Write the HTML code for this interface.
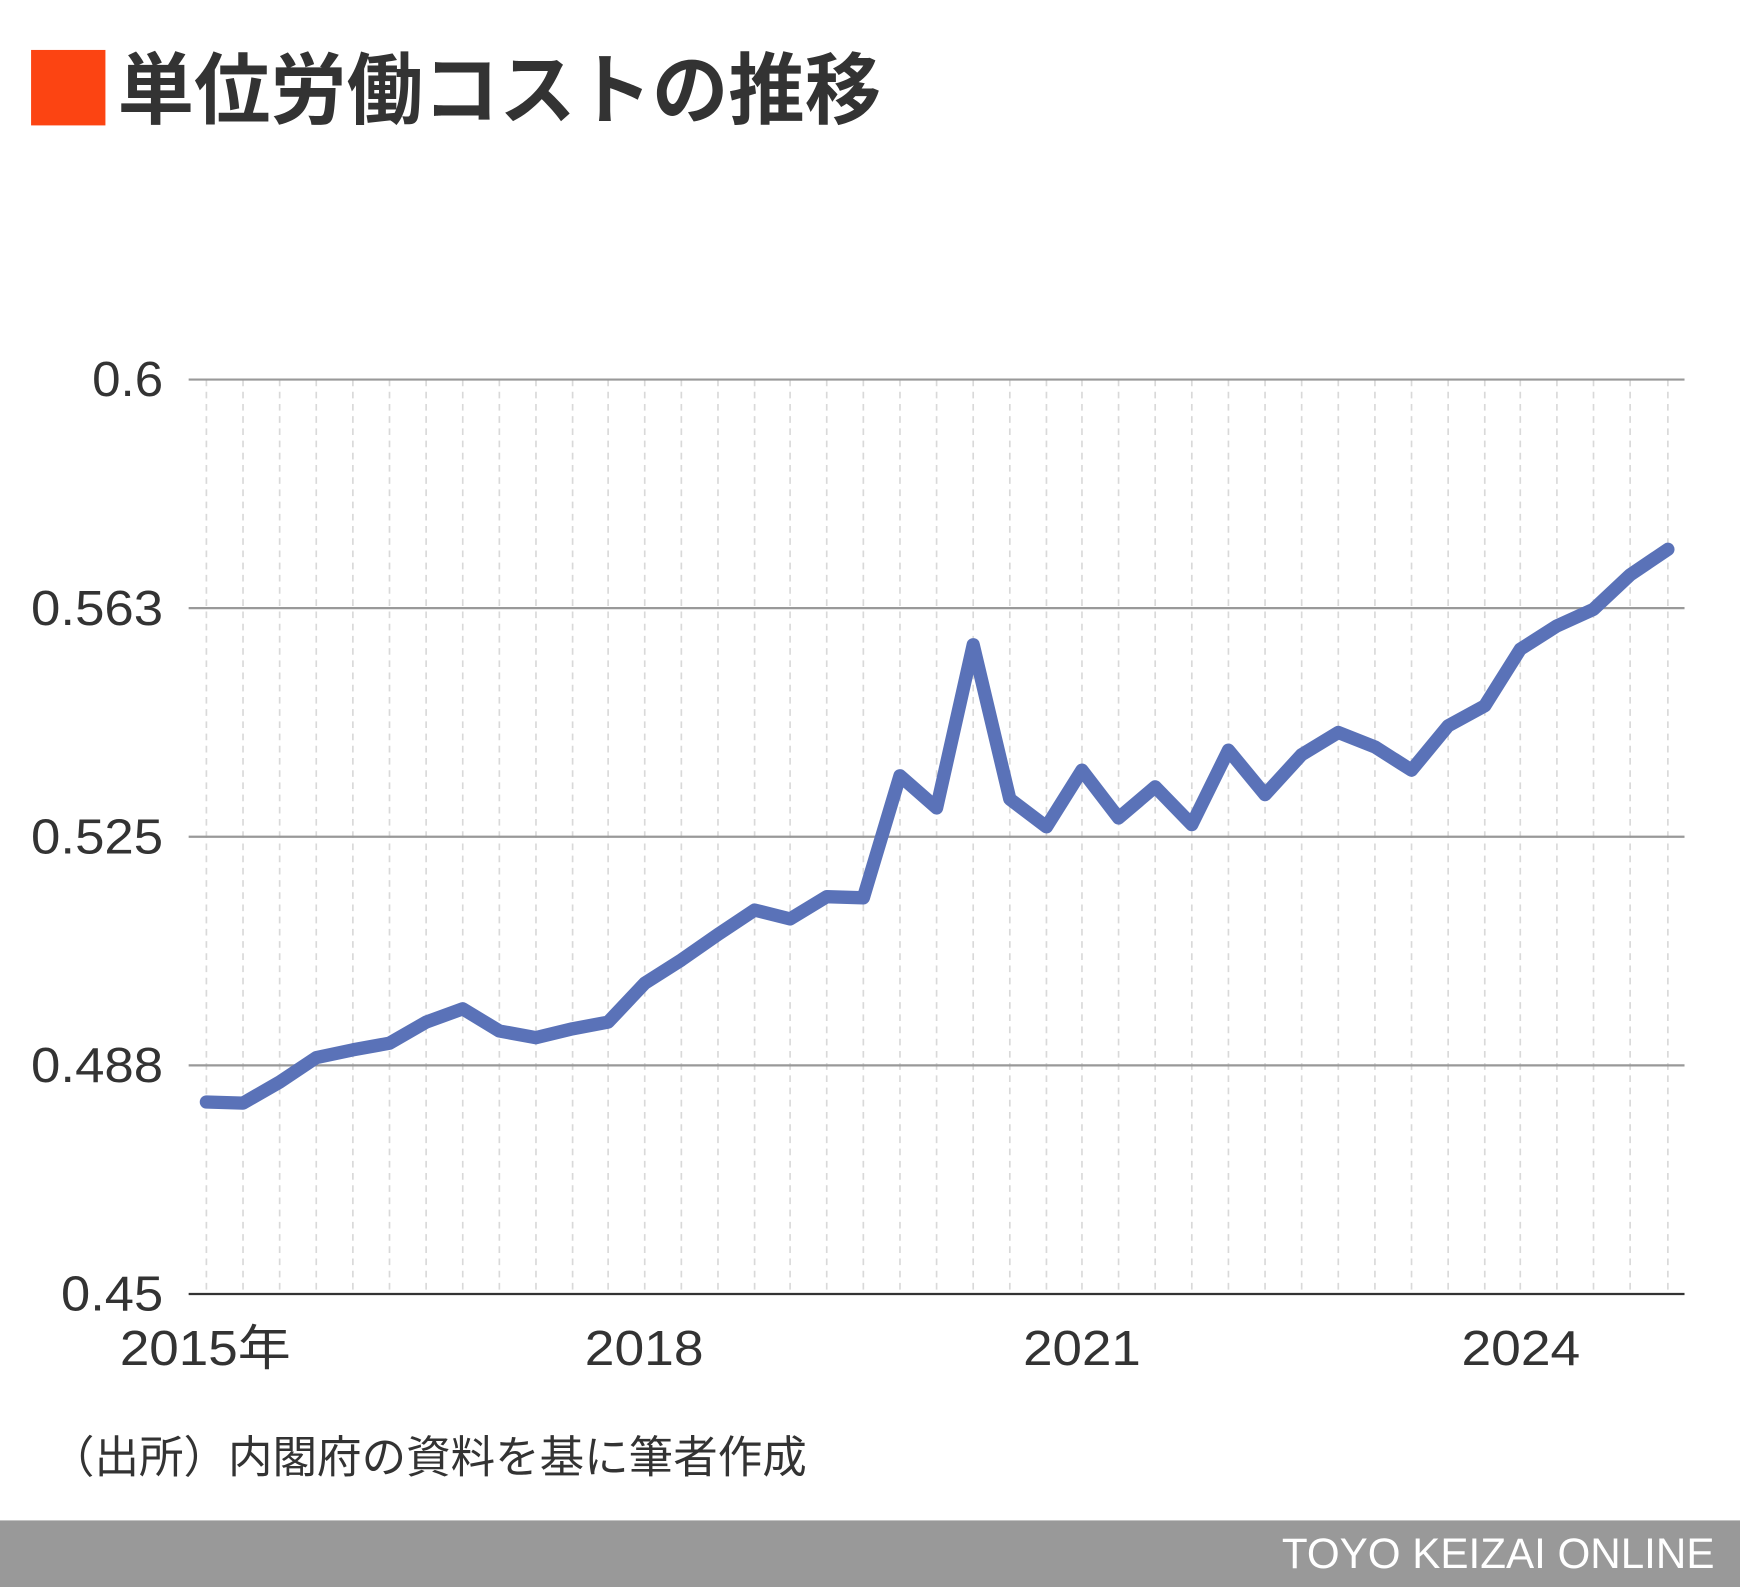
<!DOCTYPE html>
<html><head><meta charset="utf-8"><style>
html,body{margin:0;padding:0;background:#fff;}
svg{display:block;}
</style></head><body>
<svg width="1740" height="1587" viewBox="0 0 1568 1430" preserveAspectRatio="none" xmlns="http://www.w3.org/2000/svg">
<rect x="0" y="0" width="1568" height="1430" fill="#fff"/>
<rect x="28" y="45" width="67" height="68" fill="#fc4412"/>
<text x="106" y="106" textLength="688" lengthAdjust="spacingAndGlyphs" font-family="'Liberation Sans','Noto Sans CJK JP',sans-serif" font-weight="bold" font-size="70" fill="#333">単位労働コストの推移</text>
<g stroke="#d9d9d9" stroke-width="1.5" stroke-dasharray="6,5">
<line x1="186" y1="342" x2="186" y2="1166"/><line x1="219" y1="342" x2="219" y2="1166"/><line x1="252" y1="342" x2="252" y2="1166"/><line x1="285" y1="342" x2="285" y2="1166"/><line x1="318" y1="342" x2="318" y2="1166"/><line x1="351" y1="342" x2="351" y2="1166"/><line x1="384" y1="342" x2="384" y2="1166"/><line x1="417" y1="342" x2="417" y2="1166"/><line x1="450" y1="342" x2="450" y2="1166"/><line x1="483" y1="342" x2="483" y2="1166"/><line x1="516" y1="342" x2="516" y2="1166"/><line x1="548" y1="342" x2="548" y2="1166"/><line x1="581" y1="342" x2="581" y2="1166"/><line x1="614" y1="342" x2="614" y2="1166"/><line x1="647" y1="342" x2="647" y2="1166"/><line x1="680" y1="342" x2="680" y2="1166"/><line x1="712" y1="342" x2="712" y2="1166"/><line x1="745" y1="342" x2="745" y2="1166"/><line x1="778" y1="342" x2="778" y2="1166"/><line x1="811" y1="342" x2="811" y2="1166"/><line x1="844" y1="342" x2="844" y2="1166"/><line x1="877" y1="342" x2="877" y2="1166"/><line x1="910" y1="342" x2="910" y2="1166"/><line x1="943" y1="342" x2="943" y2="1166"/><line x1="975" y1="342" x2="975" y2="1166"/><line x1="1008" y1="342" x2="1008" y2="1166"/><line x1="1041" y1="342" x2="1041" y2="1166"/><line x1="1074" y1="342" x2="1074" y2="1166"/><line x1="1107" y1="342" x2="1107" y2="1166"/><line x1="1140" y1="342" x2="1140" y2="1166"/><line x1="1173" y1="342" x2="1173" y2="1166"/><line x1="1206" y1="342" x2="1206" y2="1166"/><line x1="1239" y1="342" x2="1239" y2="1166"/><line x1="1272" y1="342" x2="1272" y2="1166"/><line x1="1305" y1="342" x2="1305" y2="1166"/><line x1="1338" y1="342" x2="1338" y2="1166"/><line x1="1370" y1="342" x2="1370" y2="1166"/><line x1="1403" y1="342" x2="1403" y2="1166"/><line x1="1436" y1="342" x2="1436" y2="1166"/><line x1="1469" y1="342" x2="1469" y2="1166"/><line x1="1503" y1="342" x2="1503" y2="1166"/>
</g>
<g stroke="#999" stroke-width="2">
<line x1="170" y1="342" x2="1518" y2="342"/>
<line x1="170" y1="548" x2="1518" y2="548"/>
<line x1="170" y1="754" x2="1518" y2="754"/>
<line x1="170" y1="960" x2="1518" y2="960"/>
</g>
<line x1="170" y1="1166" x2="1518" y2="1166" stroke="#333" stroke-width="2"/>
<g font-family="'Liberation Sans',sans-serif" font-size="44" fill="#333">
<text x="83" y="357" textLength="64" lengthAdjust="spacingAndGlyphs">0.6</text>
<text x="28" y="563" textLength="119" lengthAdjust="spacingAndGlyphs">0.563</text>
<text x="28" y="769" textLength="119" lengthAdjust="spacingAndGlyphs">0.525</text>
<text x="28" y="975" textLength="119" lengthAdjust="spacingAndGlyphs">0.488</text>
<text x="55" y="1181" textLength="92" lengthAdjust="spacingAndGlyphs">0.45</text>
</g>
<g font-family="'Liberation Sans','Noto Sans CJK JP',sans-serif" font-size="44" fill="#333">
<text x="108" y="1230" textLength="154" lengthAdjust="spacingAndGlyphs">2015年</text>
<text x="527" y="1230" textLength="107" lengthAdjust="spacingAndGlyphs">2018</text>
<text x="922" y="1230" textLength="106" lengthAdjust="spacingAndGlyphs">2021</text>
<text x="1317" y="1230" textLength="107" lengthAdjust="spacingAndGlyphs">2024</text>
</g>
<text x="45" y="1327" textLength="682" lengthAdjust="spacingAndGlyphs" font-family="'Liberation Sans','Noto Sans CJK JP',sans-serif" font-size="40" fill="#333">（出所）内閣府の資料を基に筆者作成</text>
<rect x="0" y="1370" width="1568" height="60" fill="#999"/>
<text x="1545" y="1413" text-anchor="end" font-family="'Liberation Sans',sans-serif" font-size="38" fill="#fff">TOYO KEIZAI ONLINE</text>
<polyline fill="none" stroke="#5a72b8" stroke-width="12" stroke-linejoin="round" stroke-linecap="round" points="186,993 219,994 252,975 285,953 318,946 351,940 384,921 417,909 450,929 483,935 516,927 548,921 581,886 614,865 647,842 680,820 712,828 745,808 778,809 811,699 844,728 877,581 910,720 943,745 975,694 1008,737 1041,709 1074,743 1107,676 1140,716 1173,680 1206,660 1239,673 1272,694 1305,654 1338,636 1370,585 1403,564 1436,549 1469,518 1503,495"/>
</svg>
</body></html>
